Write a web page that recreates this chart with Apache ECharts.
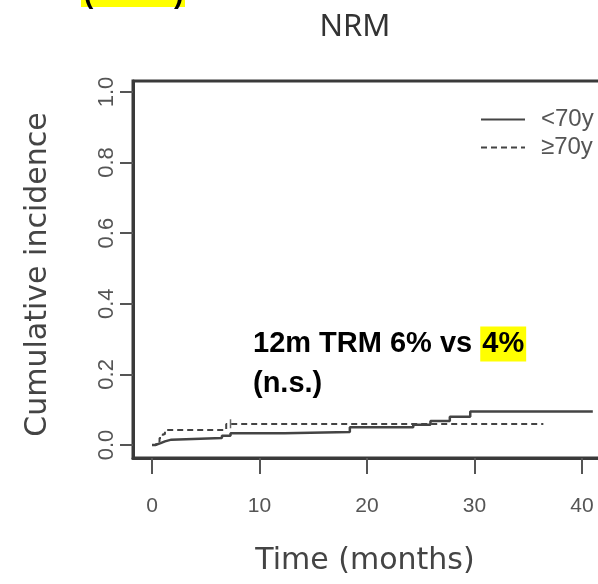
<!DOCTYPE html>
<html>
<head>
<meta charset="utf-8">
<script src="https://cdn.jsdelivr.net/npm/echarts@6/dist/echarts.min.js"></script>
<style>
  html, body { margin: 0; padding: 0; background: #fff; }
  #chart { width: 598px; height: 584px; }
</style>
</head>
<body>
<div id="chart"></div>
<script>
// cumulative incidence steps: [months, incidence]
const under70 = [[0, 0], [0.3, 0.005], [0.8, 0.01], [1.2, 0.015], [1.8, 0.02], [6.5, 0.026], [7.3, 0.033],
    [12.3, 0.037], [18.4, 0.05], [24.3, 0.057], [25.9, 0.068], [27.7, 0.08], [29.6, 0.095], [41, 0.095]];
const over70 = [[0, 0], [0.4, 0.01], [0.7, 0.02], [1.0, 0.03], [1.2, 0.042], [6.9, 0.059], [36.4, 0.059]];
const censorMarks = [[7.3, 0.06]];
const seriesNames = ['<70y', '≥70y'];
const xTicks = [0, 10, 20, 30, 40];
const yTicks = [0, 0.2, 0.4, 0.6, 0.8, 1.0];

const chart = echarts.init(document.getElementById('chart'));
const tickFont = '"Liberation Sans Narrow", "Liberation Sans", Arial, sans-serif';
const nameFont = '"DejaVu Sans", sans-serif';
const titleFont = '"Noto Sans", "Open Sans", sans-serif';
const boxLine = { color: '#3a3a3a', width: 3 };

chart.setOption({
    animation: false,
    grid: {
        left: 133, top: 81, width: 477, height: 377,
        outerBoundsMode: 'none', containLabel: false,
        show: true, borderColor: '#3a3a3a', borderWidth: 3, backgroundColor: 'transparent'
    },
    legend: {
        orient: 'vertical',
        left: 475, top: 101,
        itemWidth: 44, itemHeight: 14, itemGap: 1,
        data: seriesNames,
        itemStyle: { opacity: 0 },
        textStyle: { fontSize: 24, lineHeight: 24, color: '#555', fontFamily: '"Liberation Sans", Arial, sans-serif', padding: [3, 0, 0, 11] }
    },
    xAxis: {
        type: 'value', min: -1.77, max: 42.6,
        name: 'Time (months)', nameLocation: 'middle', nameGap: 88,
        nameTextStyle: { fontSize: 30, color: '#444', fontFamily: nameFont, padding: [0, 13, 0, 0] },
        axisLine: { show: true, onZero: false, lineStyle: boxLine },
        axisTick: { show: true, customValues: xTicks, length: 16, lineStyle: { color: '#555', width: 2 } },
        axisLabel: { customValues: xTicks, margin: 38, fontSize: 21, color: '#555', fontFamily: tickFont },
        splitLine: { show: false }
    },
    yAxis: {
        type: 'value', min: -0.037, max: 1.031,
        name: 'Cumulative incidence', nameLocation: 'middle', nameGap: 80,
        nameTextStyle: { fontSize: 30, color: '#444', fontFamily: nameFont, padding: [0, 10, 0, 0] },
        axisLine: { show: true, onZero: false, lineStyle: boxLine },
        axisTick: { show: true, customValues: yTicks, length: 13, lineStyle: { color: '#555', width: 2 } },
        axisLabel: {
            customValues: yTicks, rotate: 90, margin: 15, fontSize: 22, color: '#555', fontFamily: tickFont,
            formatter: v => v.toFixed(1)
        },
        splitLine: { show: false }
    },
    series: [
        {
            name: seriesNames[0], type: 'line', step: 'end', symbol: 'none', data: under70,
            lineStyle: { color: '#444', width: 2.5, type: 'solid' }, itemStyle: { color: '#444' }
        },
        {
            name: seriesNames[1], type: 'line', step: 'end', symbol: 'none', data: over70,
            lineStyle: { color: '#444', width: 2, type: [6, 4] }, itemStyle: { color: '#444' }
        },
        {
            type: 'scatter', data: censorMarks, symbol: 'rect', symbolSize: [1.5, 9],
            itemStyle: { color: '#444' }, silent: true
        }
    ],
    graphic: [
        { type: 'rect', shape: { x: 81, y: 0, width: 104, height: 7 }, style: { fill: '#ffff00' } },
        { type: 'text', x: 84, y: 9, style: { text: '(', font: 'bold 28px "Liberation Sans", Arial', fill: '#000', textVerticalAlign: 'bottom' } },
        { type: 'text', x: 174, y: 9, style: { text: ')', font: 'bold 28px "Liberation Sans", Arial', fill: '#000', textVerticalAlign: 'bottom' } },
        {
            type: 'text', x: 355, y: 27,
            style: { text: 'NRM', font: '31px ' + titleFont, fill: '#333', textAlign: 'center', textVerticalAlign: 'middle' }
        },
        {
            type: 'text', x: 253, y: 324,
            style: {
                text: '{a|12m TRM 6% vs }{h|4%}\n{a|(n.s.)}',
                rich: {
                    a: { font: 'bold 29px "Liberation Sans", Arial', fill: '#000', lineHeight: 40 },
                    h: { font: 'bold 29px "Liberation Sans", Arial', fill: '#000', lineHeight: 40, backgroundColor: '#ffff00', padding: [3, 2, 3, 2] }
                }
            }
        }
    ]
});
</script>
</body>
</html>
